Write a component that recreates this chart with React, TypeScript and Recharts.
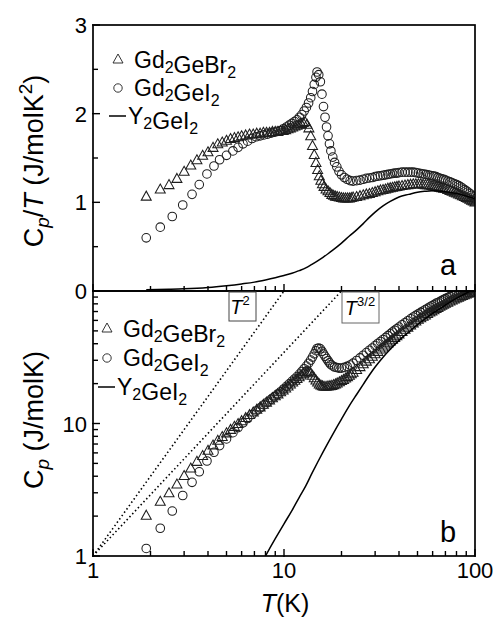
import React from 'react'
import { ScatterChart, Scatter, XAxis, YAxis } from 'recharts'

// Gd2GeBr2 (triangles): temperature (K) and Cp/T (J/molK^2)
const tBr = [
  1.9, 2.25, 2.5, 2.75, 3.0, 3.25, 3.5, 3.75, 4.0, 4.25, 4.5, 4.75, 5.0, 5.25, 5.5, 5.75, 6.0,
  6.3, 6.6, 6.9, 7.2, 7.5, 7.8, 8.1, 8.4, 8.7, 9.0, 9.3, 9.6, 9.9, 10.2, 10.5, 10.8, 11.1, 11.4, 11.7, 12.0,
  12.3, 12.6, 12.9, 13.2, 13.5, 13.8, 14.1, 14.4, 14.7, 15.0, 15.3, 15.6, 15.9, 16.2, 16.6, 17.0, 17.4, 17.8, 18.2, 18.6,
  19.0, 19.5, 20, 20.5, 21, 21.5, 22, 22.5, 23, 24, 25, 26, 27, 28, 29, 30, 31, 32, 33, 34,
  35, 36, 37, 38, 39, 40, 41.5, 43, 44.5, 46, 47.5, 49, 50.5, 52, 53.5, 55, 56.5, 58, 59.5, 61,
  62.5, 64, 65.5, 67, 68.5, 70, 72, 74, 76, 78, 80, 82, 84, 86, 88, 90, 92, 94, 96, 98, 100
]
const cpTBr = [
  1.07, 1.15, 1.2, 1.27, 1.35, 1.42, 1.48, 1.53, 1.57, 1.62, 1.66, 1.68, 1.7, 1.72, 1.73, 1.74, 1.75,
  1.76, 1.77, 1.77, 1.78, 1.78, 1.79, 1.79, 1.79, 1.8, 1.8, 1.8, 1.81, 1.81, 1.82, 1.83, 1.84, 1.85, 1.86, 1.87, 1.88,
  1.89, 1.9, 1.91, 1.88, 1.84, 1.75, 1.64, 1.54, 1.45, 1.37, 1.3, 1.25, 1.21, 1.18, 1.15, 1.13, 1.11, 1.09, 1.08, 1.07,
  1.065, 1.06, 1.055, 1.05, 1.05, 1.05, 1.05, 1.055, 1.06, 1.065, 1.075, 1.085, 1.095, 1.1, 1.11, 1.12, 1.13, 1.14, 1.145, 1.15,
  1.16, 1.165, 1.17, 1.175, 1.18, 1.185, 1.19, 1.195, 1.2, 1.205, 1.21, 1.21, 1.21, 1.21, 1.205, 1.2, 1.2, 1.195, 1.19, 1.185,
  1.18, 1.175, 1.17, 1.165, 1.16, 1.155, 1.145, 1.135, 1.125, 1.115, 1.105, 1.095, 1.085, 1.075, 1.065, 1.055, 1.045, 1.035, 1.025, 1.015, 1.005
]

// Gd2GeI2 (circles)
const tI = [
  1.9, 2.25, 2.6, 2.95, 3.3, 3.6, 3.95, 4.3, 4.6, 5.0, 5.4, 5.75, 6.1, 6.45, 6.8, 7.15, 7.5, 7.85, 8.2, 8.55,
  8.9, 9.25, 9.6, 9.95, 10.3, 10.65, 11.0, 11.35, 11.7, 12.05, 12.4, 12.75, 13.1, 13.45, 13.8, 14.1, 14.4, 14.7, 14.9, 15.2,
  15.5, 15.8, 16.1, 16.4, 16.7, 17.0, 17.3, 17.6, 18.0, 18.4, 18.9, 19.4, 20, 20.7, 21.4, 22.2, 23, 24, 25, 26,
  27, 28, 29, 30, 31, 32, 33, 34, 35, 36, 37, 38, 39, 40, 41.5, 43, 44.5, 46, 47.5, 49,
  50.5, 52, 53.5, 55, 56.5, 58, 59.5, 61, 62.5, 64, 65.5, 67, 68.5, 70, 72, 74, 76, 78, 80, 82,
  84, 86, 88, 90, 92, 94, 96, 98, 100
]
const cpTI = [
  0.6, 0.72, 0.84, 0.97, 1.09, 1.2, 1.32, 1.41, 1.48, 1.53, 1.58, 1.62, 1.66, 1.69, 1.72, 1.74, 1.75, 1.76, 1.77, 1.78,
  1.79, 1.8, 1.81, 1.83, 1.85, 1.87, 1.89, 1.91, 1.93, 1.96, 1.99, 2.03, 2.07, 2.12, 2.18, 2.25, 2.33, 2.41, 2.47, 2.44,
  2.36, 2.22, 2.08, 1.96, 1.85, 1.75, 1.66, 1.58, 1.51, 1.45, 1.4, 1.35, 1.31, 1.28, 1.26, 1.245, 1.24, 1.245, 1.25, 1.26,
  1.27, 1.275, 1.28, 1.29, 1.295, 1.3, 1.305, 1.31, 1.315, 1.32, 1.325, 1.33, 1.33, 1.335, 1.34, 1.34, 1.34, 1.34, 1.34, 1.335,
  1.33, 1.325, 1.32, 1.315, 1.31, 1.305, 1.3, 1.295, 1.29, 1.28, 1.27, 1.265, 1.26, 1.25, 1.24, 1.23, 1.22, 1.21, 1.2, 1.19,
  1.175, 1.16, 1.145, 1.13, 1.115, 1.1, 1.08, 1.06, 1.04
]

// Y2GeI2 (solid line)
const tY = [1.9, 2.5, 3, 4, 5, 6, 7, 8, 9, 10, 11, 12, 13, 14, 15, 16, 17, 18, 19, 20, 22, 24, 26, 28, 30, 33, 36, 40, 45, 50, 55, 60, 65, 70, 80, 90, 100]
const cpTY = [
  0.015, 0.02, 0.025, 0.04, 0.06, 0.08, 0.1, 0.125, 0.15, 0.175, 0.2, 0.23, 0.26, 0.3, 0.34, 0.38, 0.42, 0.46, 0.5, 0.54,
  0.62, 0.69, 0.76, 0.83, 0.89, 0.96, 1.01, 1.06, 1.09, 1.115, 1.125, 1.13, 1.125, 1.12, 1.1, 1.07, 1.04
]

// power-law guides in panel b (end points)
const guideT2 = [{ x: 1, y: 1 }, { x: 10, y: 100 }]
const guideT32 = [{ x: 1, y: 1 }, { x: 20, y: 100 }]

const logMajor = [1, 10, 100]
const logMinor = [2, 3, 4, 5, 6, 7, 8, 9, 20, 30, 40, 50, 60, 70, 80, 90]
const yMajorA = [0, 1, 2, 3]
const yMinorA = [0.5, 1.5, 2.5]
const yLabelsB = [1, 10]

const toPts = (ts: number[], vs: number[]) => ts.map((t, i) => ({ x: t, y: vs[i] }))
// panel b shows Cp itself = T * (Cp/T)
const toCp = (ts: number[], vs: number[]) => ts.map((t, i) => ({ x: t, y: t * vs[i] }))

const brA = toPts(tBr, cpTBr)
const iA = toPts(tI, cpTI)
const yA = toPts(tY, cpTY)
const brB = toCp(tBr, cpTBr)
const iB = toCp(tI, cpTI)
const yB = toCp(tY, cpTY)

const MK = '#1e1e1e'
const MW = 1.05
const TL = { stroke: '#000', strokeWidth: 1.4 }

const Tri = (p: any) => {
  const { cx, cy } = p
  return <path d={`M${cx},${cy - 5}L${cx + 5},${cy + 4}L${cx - 5},${cy + 4}Z`} fill="none" stroke={MK} strokeWidth={MW} />
}
const Circ = (p: any) => <circle cx={p.cx} cy={p.cy} r={4.3} fill="none" stroke={MK} strokeWidth={MW} />
const NoDot = () => <g />

const XLabel = (p: any) => (
  <text x={p.x} y={p.y} textAnchor="middle" fontSize={22} fill="#000">{p.payload.value}</text>
)
const makeYLabel = (labels: number[]) => (p: any) =>
  labels.includes(p.payload.value)
    ? <text x={p.x} y={p.y + 8} textAnchor="end" fontSize={22} fill="#000">{p.payload.value}</text>
    : <g />

const Sub = ({ children }: { children: React.ReactNode }) => (
  <>
    <tspan fontSize={16} dy={5}>{children}</tspan>
    <tspan dy={-5}></tspan>
  </>
)

const Legend = ({ x, rows }: { x: number; rows: number[] }) => (
  <g>
    <path d={`M${x},${rows[0] - 6}L${x + 5},${rows[0] + 3}L${x - 5},${rows[0] + 3}Z`} fill="none" stroke={MK} strokeWidth={0.9} />
    <text x={x + 16} y={rows[0] + 8} fontSize={23}>Gd<Sub>2</Sub>GeBr<Sub>2</Sub></text>
    <circle cx={x} cy={rows[1]} r={4.2} fill="none" stroke={MK} strokeWidth={0.9} />
    <text x={x + 16} y={rows[1] + 8} fontSize={23}>Gd<Sub>2</Sub>GeI<Sub>2</Sub></text>
    <line x1={x - 9} y1={rows[2]} x2={x + 8} y2={rows[2]} stroke="#000" strokeWidth={1.5} />
    <text x={x + 10} y={rows[2] + 8} fontSize={23}>Y<Sub>2</Sub>GeI<Sub>2</Sub></text>
  </g>
)

export default function App() {
  return (
    <div style={{ position: 'absolute', left: 0, top: 0, width: 493, height: 622, background: '#fff', fontFamily: 'Arial, "Liberation Sans", sans-serif' }}>
      {/* panel b: Cp vs T, log-log */}
      <div style={{ position: 'absolute', left: 0, top: 0 }}>
        <ScatterChart width={493} height={622} margin={{ top: 291, right: 18, bottom: 0, left: 0 }}>
          {/* labelled major-tick axes sit outside, the default axes carry the short minor ticks next to the plot */}
          <XAxis xAxisId="major" dataKey="x" type="number" scale="log" domain={[1, 100]} allowDataOverflow ticks={logMajor} interval={0}
            axisLine={false} tickLine={TL} tickSize={-8} tickMargin={29} height={65} tick={XLabel} />
          <YAxis yAxisId="major" dataKey="y" type="number" scale="log" domain={[1, 100]} allowDataOverflow ticks={logMajor} interval={0}
            axisLine={false} tickLine={TL} tickSize={-8} tickMargin={13} width={92} tick={makeYLabel(yLabelsB)} />
          <XAxis dataKey="x" type="number" scale="log" domain={[1, 100]} allowDataOverflow ticks={logMinor} interval={0}
            axisLine={false} tickLine={TL} tickSize={-5} height={1} tick={NoDot} />
          <YAxis dataKey="y" type="number" scale="log" domain={[1, 100]} allowDataOverflow ticks={logMinor} interval={0}
            axisLine={false} tickLine={TL} tickSize={-5} width={1} tick={NoDot} />
          <Scatter data={guideT2} shape={NoDot} line={{ stroke: '#000', strokeWidth: 1.6, strokeDasharray: '1.5 2.6' }} isAnimationActive={false} />
          <Scatter data={guideT32} shape={NoDot} line={{ stroke: '#000', strokeWidth: 1.6, strokeDasharray: '1.5 2.6' }} isAnimationActive={false} />
          <Scatter data={brB} shape={Tri} isAnimationActive={false} />
          <Scatter data={iB} shape={Circ} isAnimationActive={false} />
          <Scatter data={yB} xAxisId="major" yAxisId="major" shape={NoDot} line={{ stroke: '#000', strokeWidth: 1.5 }} lineJointType="monotoneX" isAnimationActive={false} />
        </ScatterChart>
      </div>
      {/* panel a: Cp/T vs T */}
      <div style={{ position: 'absolute', left: 0, top: 0 }}>
        <ScatterChart width={493} height={312} margin={{ top: 25, right: 18, bottom: 19, left: 0 }}>
          <XAxis xAxisId="major" dataKey="x" type="number" scale="log" domain={[1, 100]} allowDataOverflow ticks={logMajor} interval={0}
            axisLine={false} tickLine={TL} tickSize={-8} height={1} tick={NoDot} />
          <YAxis yAxisId="major" dataKey="y" type="number" domain={[0, 3]} allowDataOverflow ticks={yMajorA} interval={0}
            axisLine={false} tickLine={TL} tickSize={-8} tickMargin={13} width={92} tick={makeYLabel(yMajorA)} />
          <XAxis dataKey="x" type="number" scale="log" domain={[1, 100]} allowDataOverflow ticks={logMinor} interval={0}
            axisLine={false} tickLine={TL} tickSize={-5} height={1} tick={NoDot} />
          <YAxis dataKey="y" type="number" domain={[0, 3]} allowDataOverflow ticks={yMinorA} interval={0}
            axisLine={false} tickLine={TL} tickSize={-5} width={1} tick={NoDot} />
          <Scatter data={brA} shape={Tri} isAnimationActive={false} />
          <Scatter data={iA} shape={Circ} isAnimationActive={false} />
          <Scatter data={yA} xAxisId="major" yAxisId="major" shape={NoDot} line={{ stroke: '#000', strokeWidth: 1.5 }} lineJointType="monotoneX" isAnimationActive={false} />
        </ScatterChart>
      </div>
      {/* frames, legends and annotations */}
      <svg width={493} height={622} style={{ position: 'absolute', left: 0, top: 0, pointerEvents: 'none' }}>
        <rect x={93} y={25} width={382} height={266} fill="none" stroke="#000" strokeWidth={1.7} />
        <rect x={93} y={291} width={382} height={265} fill="none" stroke="#000" strokeWidth={1.7} />

        <Legend x={118} rows={[60, 88, 116]} />
        <Legend x={107} rows={[329, 358, 387]} />

        <text transform="rotate(-90 43 161)" x={43} y={161} textAnchor="middle" fontSize={27}>
          C<tspan fontStyle="italic" fontSize={19} dy={6}>p</tspan><tspan dy={-6}>/</tspan><tspan fontStyle="italic">T</tspan>{' (J/molK'}<tspan fontSize={19} dy={-11}>2</tspan><tspan dy={11}>)</tspan>
        </text>
        <text transform="rotate(-90 43 420)" x={43} y={420} textAnchor="middle" fontSize={27}>
          C<tspan fontStyle="italic" fontSize={19} dy={6}>p</tspan><tspan dy={-6}>{' (J/molK)'}</tspan>
        </text>
        <text x={285} y={612} textAnchor="middle" fontSize={25}>
          <tspan fontStyle="italic">T</tspan>(K)
        </text>

        <text x={448} y={275} textAnchor="middle" fontSize={29}>a</text>
        <text x={448} y={542} textAnchor="middle" fontSize={29}>b</text>

        <rect x={229} y={292} width={27} height={29} fill="#fff" stroke="#444" strokeWidth={1} />
        <text x={240} y={314} textAnchor="middle" fontSize={20}>
          <tspan fontStyle="italic">T</tspan><tspan fontSize={13} dy={-9}>2</tspan>
        </text>
        <rect x={342} y={292} width={37} height={31} fill="#fff" stroke="#666" strokeWidth={1} />
        <text x={360} y={315} textAnchor="middle" fontSize={20}>
          <tspan fontStyle="italic">T</tspan><tspan fontSize={13} dy={-9}>3/2</tspan>
        </text>
      </svg>
    </div>
  )
}
